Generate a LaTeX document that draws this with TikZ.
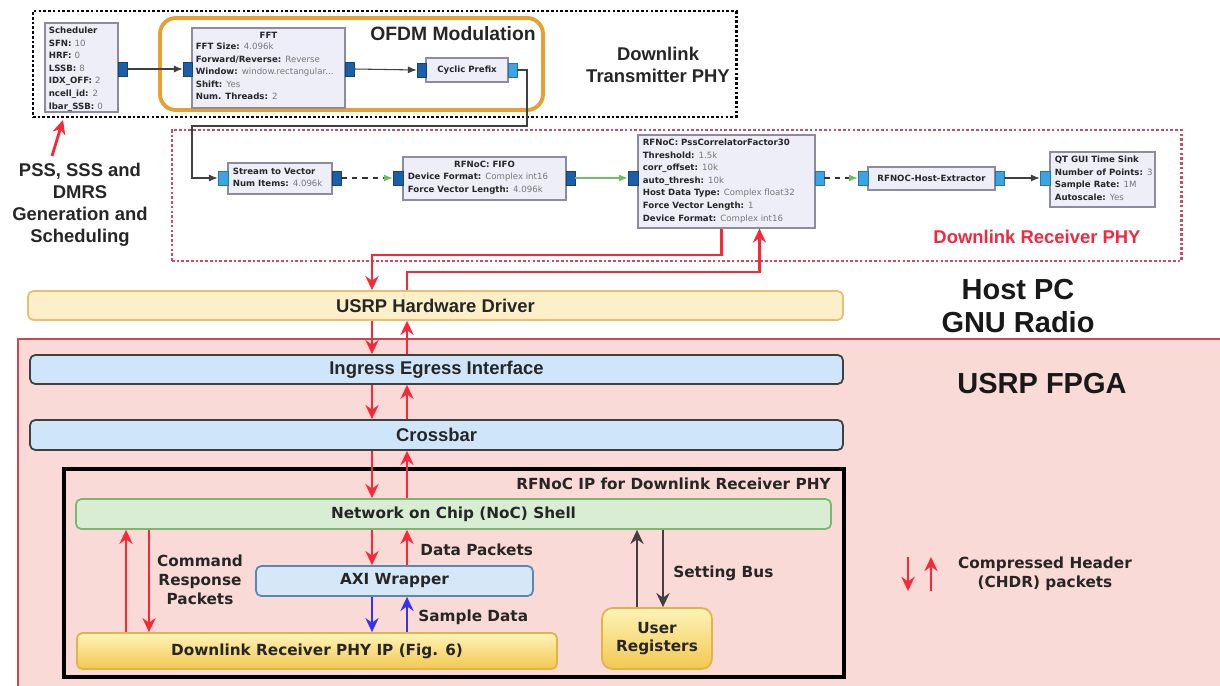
\documentclass[tikz,border=0pt]{standalone}
\usepackage{fontspec}
\setmainfont{Liberation Sans}
\newfontfamily\dvs{DejaVu Sans}
\usetikzlibrary{fit,calc,arrows.meta}
\definecolor{blkfill}{HTML}{EEEEF9}
\definecolor{blkborder}{HTML}{8C8C9C}
\definecolor{portdk}{HTML}{1A5FA8}
\definecolor{portlt}{HTML}{3AA4E4}
\definecolor{valgray}{HTML}{777777}
\definecolor{redarr}{HTML}{F82838}
\definecolor{bluearr}{HTML}{3434F0}
\definecolor{darkarr}{HTML}{404040}
\definecolor{fpgafill}{HTML}{F9DAD6}
\definecolor{fpgaline}{HTML}{C84850}
\definecolor{reddot}{HTML}{D04868}
\definecolor{ofdm}{HTML}{E8A030}
\definecolor{drvfill}{HTML}{FDF0C8}
\definecolor{drvline}{HTML}{E6C070}
\definecolor{bluefill}{HTML}{CFE6FA}
\definecolor{noCfill}{HTML}{D8EDD4}
\definecolor{noCline}{HTML}{7AB86A}
\definecolor{axifill}{HTML}{D6E8F8}
\definecolor{axiline}{HTML}{5A88B4}
\definecolor{yeltop}{HTML}{FDF4B8}
\definecolor{yelbot}{HTML}{F2C850}
\definecolor{yelline}{HTML}{E2B448}
\definecolor{greenc}{HTML}{6CC060}
\definecolor{redtxt}{HTML}{F02840}
\newcommand{\gval}[1]{{\mdseries\color{valgray}#1}}
\begin{document}
\begin{tikzpicture}[x=0.02cm,y=-0.02cm,
  gblk/.style={draw=blkborder, fill=blkfill, line width=0.6pt, inner sep=0pt},
  portd/.style={draw=portdk!70!black, fill=portdk, line width=0.3pt, inner sep=0pt},
  portl/.style={draw=portlt!70!black, fill=portlt, line width=0.3pt, inner sep=0pt},
  gfont/.style={font=\dvs\bfseries\fontsize{4.9}{7.2}\selectfont, align=left, inner sep=0pt, text=black!85},
  gtxt/.style={gfont},
  gconn/.style={draw=gray!50!black, line width=0.6pt, -{Latex[length=5pt,width=4pt]}},
  gdash/.style={draw=gray!40!black, dashed, line width=0.6pt, -{Latex[length=5pt,width=4pt,color=greenc]}},
  ggreen/.style={draw=greenc, line width=0.6pt, -{Latex[length=5pt,width=4pt,color=greenc]}},
  rarr/.style={draw=redarr, line width=1.6pt, -{Stealth[length=8pt,width=7.5pt]}},
  barr/.style={draw=bluearr, line width=1.6pt, -{Stealth[length=8pt,width=7.5pt]}},
  darr/.style={draw=darkarr, line width=1.6pt, -{Stealth[length=8pt,width=7.5pt]}},
  hbox/.style={rounded corners=3pt, line width=1pt, inner sep=0pt},
  hfont/.style={font=\bfseries\fontsize{10.5}{12}\selectfont, inner sep=0pt, text=black!85},
  ifont/.style={font=\dvs\bfseries\fontsize{8.7}{10.5}\selectfont, inner sep=0pt, align=center, text=black!85},
  lbl/.style={font=\dvs\bfseries\fontsize{8.7}{10.8}\selectfont, inner sep=0pt, align=center, text=black!85},
  big/.style={font=\bfseries\fontsize{16.5}{19}\selectfont, inner sep=0pt, align=center, text=black!90},
  mid/.style={font=\bfseries\fontsize{10.5}{12.6}\selectfont, inner sep=0pt, align=center, text=black!85}
]
\useasboundingbox (0,0) rectangle (1220,686);

% ---------- FPGA region ----------
\path[fill=fpgafill, draw=fpgaline, line width=1.2pt] (18,339) rectangle (1226,692);

% ---------- dotted regions ----------
\node[draw=black, line width=1.7pt, dash pattern=on 1.5pt off 1.2pt, inner sep=0pt, fit={(33,11) (736,117)}] (txreg) {};
\node[draw=reddot, line width=1.7pt, dash pattern=on 1.5pt off 1.2pt, inner sep=0pt, fit={(172,130) (1181,261)}] (rxreg) {};
\node[draw=ofdm, line width=2.2pt, rounded corners=9pt, inner sep=0pt, fit={(160,18) (543,110)}] (ofdmreg) {};
\node[font=\bfseries\fontsize{11}{13}\selectfont, inner sep=0pt, text=black!85] (ofdmlbl) at (453,34) {OFDM Modulation};
\node[mid] (txlbl) at (658,65) {Downlink\\Transmitter PHY};
\node[font=\bfseries\fontsize{10.5}{12}\selectfont, inner sep=0pt, text=redtxt] (rxlbl) at (1037,237) {Downlink Receiver PHY};

% ---------- GNU Radio blocks ----------
\node[gblk, fit={(45,23) (118,112)}] (sch) {};
\node[gtxt, anchor=north west] (sch-t) at ($(sch.north west)+(4,4)$)
 {Scheduler\\SFN: \gval{10}\\HRF: \gval{0}\\LSSB: \gval{8}\\IDX\_OFF: \gval{2}\\ncell\_id: \gval{2}\\lbar\_SSB: \gval{0}};
\node[portd, fit={(118,62) (127,76)}] (sch-o) {};

\node[gblk, fit={(192,28) (345,108)}] (fft) {};
\node[gtxt, anchor=north] (fft-h) at ($(fft.north)+(0,4)$) {FFT};
\node[gtxt, anchor=north west] (fft-t) at ($(fft.north west)+(4,15)$)
 {FFT Size: \gval{4.096k}\\Forward/Reverse: \gval{Reverse}\\Window: \gval{window.rectangular...}\\Shift: \gval{Yes}\\Num. Threads: \gval{2}};
\node[portd, fit={(183,62) (192,76)}] (fft-i) {};
\node[portd, fit={(345,62) (354,76)}] (fft-o) {};

\node[gblk, fit={(426,58) (508,82)}, label={[gfont]center:Cyclic Prefix}] (cp) {};
\node[portd, fit={(417,63) (426,77)}] (cp-i) {};
\node[portl, fit={(508,63) (517,77)}] (cp-o) {};

\node[gblk, fit={(228,163) (332,194)}] (stv) {};
\node[gtxt, anchor=north west] (stv-t) at ($(stv.north west)+(5,5)$) {Stream to Vector\\Num Items: \gval{4.096k}};
\node[portl, fit={(218,171) (228,185)}] (stv-i) {};
\node[portd, fit={(332,171) (341,185)}] (stv-o) {};

\node[gblk, fit={(403,157) (566,200)}] (fifo) {};
\node[gtxt, anchor=north] (fifo-h) at ($(fifo.north)+(0,4)$) {RFNoC: FIFO};
\node[gtxt, anchor=north west] (fifo-t) at ($(fifo.north west)+(5,16)$) {Device Format: \gval{Complex int16}\\Force Vector Length: \gval{4.096k}};
\node[portd, fit={(393,171) (403,185)}] (fifo-i) {};
\node[portd, fit={(566,171) (575,185)}] (fifo-o) {};

\node[gblk, fit={(638,135) (815,228)}] (corr) {};
\node[gtxt, anchor=north west] (corr-t) at ($(corr.north west)+(5,4)$)
 {RFNoC: PssCorrelatorFactor30\\Threshold: \gval{1.5k}\\corr\_offset: \gval{10k}\\auto\_thresh: \gval{10k}\\Host Data Type: \gval{Complex float32}\\Force Vector Length: \gval{1}\\Device Format: \gval{Complex int16}};
\node[portd, fit={(628,171) (638,185)}] (corr-i) {};
\node[portl, fit={(815,171) (824,185)}] (corr-o) {};

\node[gblk, fit={(868,167) (995,190)}, label={[gfont]center:RFNOC-Host-Extractor}] (hx) {};
\node[portl, fit={(858,171) (868,185)}] (hx-i) {};
\node[portl, fit={(995,171) (1004,185)}] (hx-o) {};

\node[gblk, fit={(1050,152) (1155,207)}] (qt) {};
\node[gtxt, anchor=north west] (qt-t) at ($(qt.north west)+(5,4)$)
 {QT GUI Time Sink\\Number of Points: \gval{3}\\Sample Rate: \gval{1M}\\Autoscale: \gval{Yes}};
\node[portl, fit={(1040,171) (1050,185)}] (qt-i) {};

% GNU Radio connections
\draw[gconn] (sch-o.east) -- (fft-i.west);
\draw[gconn] (fft-o.east) -- (cp-i.west);
\coordinate (bendA) at (527,126);
\coordinate (bendB) at (192,126);
\draw[gconn] (cp-o.east) -| (bendA) -- (bendB) |- (stv-i.west);
\draw[gdash] (stv-o.east) -- (fifo-i.west);
\draw[ggreen] (fifo-o.east) -- (corr-i.west);
\draw[gdash] (corr-o.east) -- (hx-i.west);
\draw[gconn] (hx-o.east) -- (qt-i.west);

% PSS label
\node[mid] (psslbl) at (80,205) {PSS, SSS and\\DMRS\\Generation and\\Scheduling};
\coordinate (pssT) at (52,156);
\coordinate (pssH) at (63,120);
\draw[rarr] (pssT) -- (pssH);

% ---------- Host side ----------
\node[hbox, draw=drvline, fill=drvfill, fit={(28,291) (843,320)}, label={[hfont]center:USRP Hardware Driver}] (usrp) {};
\node[big] (hostlbl) at (1018,306) {Host PC\\GNU Radio};
\node[big] (fpgalbl) at (1042,384) {USRP FPGA};

% ---------- FPGA ----------
\node[hbox, draw=black!75, fill=bluefill, fit={(30,355) (843,384)}, label={[hfont]center:Ingress Egress Interface}] (ing) {};
\node[hbox, draw=black!75, fill=bluefill, fit={(30,420) (843,450)}, label={[hfont]center:Crossbar}] (xbar) {};
\node[draw=black, line width=2pt, inner sep=0pt, fit={(64,469) (844,677)}] (ipbox) {};
\node[lbl, anchor=east] (iplbl) at (831,484) {RFNoC IP for Downlink Receiver PHY};
\node[hbox, draw=noCline, fill=noCfill, fit={(76,499) (831,529)}, label={[ifont]center:Network on Chip (NoC) Shell}] (noc) {};
\node[hbox, draw=axiline, fill=axifill, fit={(256,566) (533,596)}, label={[ifont]center:AXI Wrapper}] (axi) {};
\node[hbox, draw=yelline, top color=yeltop, bottom color=yelbot, fit={(77,633) (557,669)}, label={[ifont]center:Downlink Receiver PHY IP (Fig. 6)}] (dlip) {};
\node[hbox, rounded corners=6pt, draw=yelline, top color=yeltop, bottom color=yelbot, fit={(602,608) (712,669)}, label={[ifont]center:User\\Registers}] (ureg) {};

% vertical arrow columns
\coordinate (h1) at (372,255);
\coordinate (h2) at (407,272);
\draw[rarr] ($(corr.south west)+(84,0)$) |- (h1) -- (usrp.north -| h1);
\draw[rarr] (usrp.north -| h2) -- (h2) -| ($(corr.south west)+(122,0)$);
\draw[rarr] (usrp.south -| h1) -- (ing.north -| h1);
\draw[rarr] (ing.north -| h2) -- (usrp.south -| h2);
\draw[rarr] (ing.south -| h1) -- (xbar.north -| h1);
\draw[rarr] (xbar.north -| h2) -- (ing.south -| h2);
\draw[rarr] (xbar.south -| h1) -- (noc.north -| h1);
\draw[rarr] (noc.north -| h2) -- (xbar.south -| h2);
\draw[rarr] (noc.south -| h1) -- (axi.north -| h1);
\draw[rarr] (axi.north -| h2) -- (noc.south -| h2);
\draw[barr] (axi.south -| h1) -- (dlip.north -| h1);
\draw[barr] (dlip.north -| h2) -- (axi.south -| h2);
\coordinate (c1) at (126,0);
\coordinate (c2) at (149,0);
\draw[rarr] (dlip.north -| c1) -- (noc.south -| c1);
\draw[rarr] (noc.south -| c2) -- (dlip.north -| c2);
\coordinate (s1) at (637,0);
\coordinate (s2) at (663,0);
\draw[darr] (ureg.north -| s1) -- (noc.south -| s1);
\draw[darr] (noc.south -| s2) -- (ureg.north -| s2);

\node[lbl, anchor=west] (dplbl) at (420,550) {Data Packets};
\node[lbl, anchor=west] (sdlbl) at (418,617) {Sample Data};
\node[lbl] (cmdlbl) at (200,580) {Command\\Response\\Packets};
\node[lbl, anchor=west] (sblbl) at (673,573) {Setting Bus};

% legend
\coordinate (lg1t) at (908,557);
\coordinate (lg1b) at (908,591);
\coordinate (lg2t) at (931,557);
\coordinate (lg2b) at (931,591);
\draw[rarr] (lg1t) -- (lg1b);
\draw[rarr] (lg2b) -- (lg2t);
\node[lbl] (lglbl) at (1045,574) {Compressed Header\\(CHDR) packets};
\end{tikzpicture}
\end{document}
